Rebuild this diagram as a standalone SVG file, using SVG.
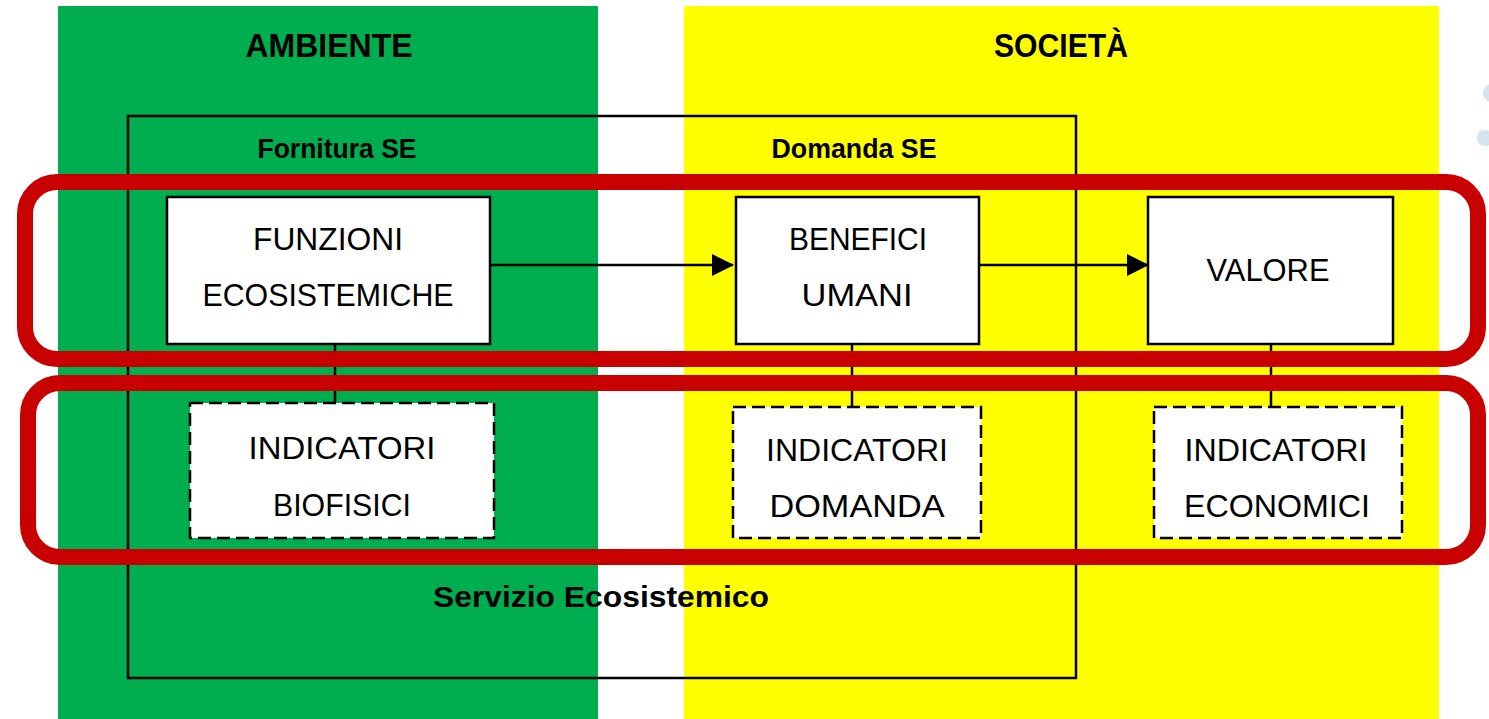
<svg xmlns="http://www.w3.org/2000/svg" width="1489" height="719" viewBox="0 0 1489 719">
  <style>
    .t { font-family: "Liberation Sans", Arial, sans-serif; fill: #000; text-anchor: middle; }
    .head { font-size: 34px; font-weight: bold; }
    .sub { font-size: 27px; font-weight: bold; }
    .box { font-size: 32px; }
    .solid { fill: #fff; stroke: #000; stroke-width: 2.5; }
    .dash { fill: #fff; stroke: #000; stroke-width: 2.5; stroke-dasharray: 13 6; }
    .conn { stroke: #000; stroke-width: 2.5; fill: none; }
    .hl { fill: none; stroke: #c80000; stroke-width: 16; }
  </style>
  <defs>
    <marker id="arr" markerWidth="22" markerHeight="22" refX="21" refY="11" orient="auto" markerUnits="userSpaceOnUse" viewBox="0 0 22 22">
      <path d="M0,0 L22,11 L0,22 z" fill="#000"/>
    </marker>
  </defs>
  <rect x="0" y="0" width="1489" height="719" fill="#fff"/>
  <circle cx="1492" cy="93" r="9" fill="#d6e4ee"/>
  <circle cx="1485" cy="138" r="8" fill="#d6e4ee"/>

  <g id="panel-ambiente">
    <rect x="58" y="6" width="540" height="713" fill="#00ad4f"/>
    <text class="t head" x="329" y="57" textLength="167" lengthAdjust="spacingAndGlyphs">AMBIENTE</text>
  </g>
  <g id="panel-societa">
    <rect x="684" y="6" width="755" height="713" fill="#ffff00"/>
    <text class="t head" x="1061" y="57" textLength="134" lengthAdjust="spacingAndGlyphs">SOCIETÀ</text>
  </g>

  <g id="servizio-ecosistemico">
    <rect x="128" y="116" width="948" height="562" fill="none" stroke="#000" stroke-width="2.5"/>
    <text class="t sub" x="337" y="158" textLength="159" lengthAdjust="spacingAndGlyphs">Fornitura SE</text>
    <text class="t sub" x="854" y="158" textLength="165" lengthAdjust="spacingAndGlyphs">Domanda SE</text>
    <text class="t sub" x="601" y="607" style="font-size:30px" textLength="336" lengthAdjust="spacingAndGlyphs">Servizio Ecosistemico</text>
  </g>

  <g id="connectors">
    <line class="conn" x1="490" y1="265" x2="733" y2="265" marker-end="url(#arr)"/>
    <line class="conn" x1="977" y1="265" x2="1148" y2="265" marker-end="url(#arr)"/>
    <line class="conn" x1="335" y1="344" x2="335" y2="403"/>
    <line class="conn" x1="852" y1="344" x2="852" y2="407"/>
    <line class="conn" x1="1271" y1="344" x2="1271" y2="407"/>
  </g>

  <g id="funzioni">
    <rect class="solid" x="167" y="197" width="323" height="147"/>
    <text class="t box" x="328" y="250" textLength="150" lengthAdjust="spacingAndGlyphs">FUNZIONI</text>
    <text class="t box" x="328" y="306" textLength="251" lengthAdjust="spacingAndGlyphs">ECOSISTEMICHE</text>
  </g>
  <g id="benefici">
    <rect class="solid" x="736" y="197" width="243" height="147"/>
    <text class="t box" x="858" y="250" textLength="138" lengthAdjust="spacingAndGlyphs">BENEFICI</text>
    <text class="t box" x="857" y="306" textLength="111" lengthAdjust="spacingAndGlyphs">UMANI</text>
  </g>
  <g id="valore">
    <rect class="solid" x="1148" y="197" width="245" height="147"/>
    <text class="t box" x="1268" y="281" textLength="123" lengthAdjust="spacingAndGlyphs">VALORE</text>
  </g>
  <g id="ind-biofisici">
    <rect class="dash" x="190" y="403" width="304" height="135"/>
    <text class="t box" x="342" y="459" textLength="187" lengthAdjust="spacingAndGlyphs">INDICATORI</text>
    <text class="t box" x="342" y="516" textLength="138" lengthAdjust="spacingAndGlyphs">BIOFISICI</text>
  </g>
  <g id="ind-domanda">
    <rect class="dash" x="733" y="407" width="248" height="131"/>
    <text class="t box" x="857" y="461" textLength="182" lengthAdjust="spacingAndGlyphs">INDICATORI</text>
    <text class="t box" x="857" y="517" textLength="175" lengthAdjust="spacingAndGlyphs">DOMANDA</text>
  </g>
  <g id="ind-economici">
    <rect class="dash" x="1154" y="407" width="248" height="131"/>
    <text class="t box" x="1276" y="461" textLength="183" lengthAdjust="spacingAndGlyphs">INDICATORI</text>
    <text class="t box" x="1277" y="517" textLength="186" lengthAdjust="spacingAndGlyphs">ECONOMICI</text>
  </g>

  <g id="highlight-top">
    <rect class="hl" x="25" y="182" width="1453" height="177" rx="32" ry="32"/>
  </g>
  <g id="highlight-bottom">
    <rect class="hl" x="28" y="383" width="1450" height="174" rx="32" ry="32"/>
  </g>
</svg>
